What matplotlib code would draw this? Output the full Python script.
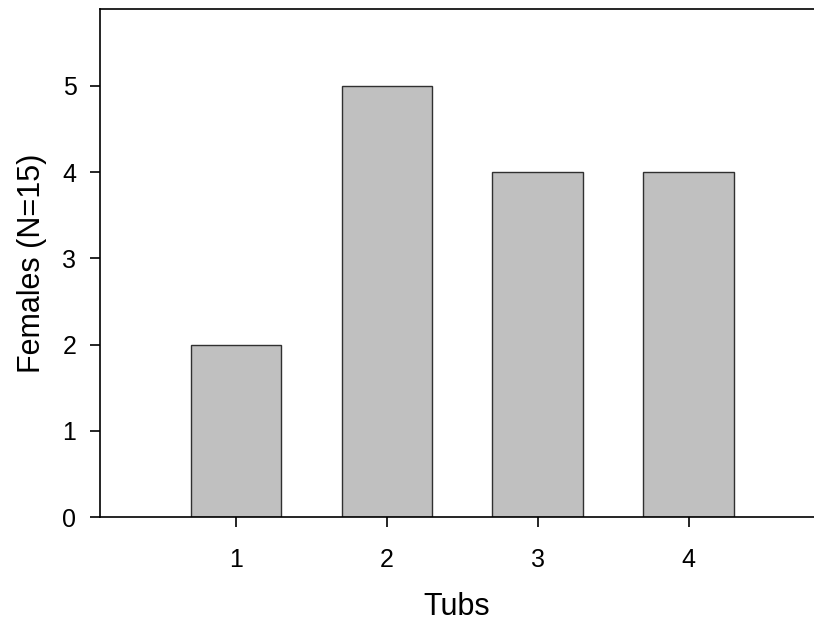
import matplotlib
matplotlib.use("Agg")
import matplotlib.pyplot as plt

plt.rcParams['font.family'] = ['Liberation Sans', 'DejaVu Sans']

# --- Data ---
tubs = [1, 2, 3, 4]
females = [2, 5, 4, 4]
yticks = [0, 1, 2, 3, 4, 5]

# --- Plot ---
fig = plt.figure(figsize=(8.14, 6.26), dpi=100)
ax = fig.add_axes([0.1229, 0.1741, 0.8771, 0.8115])

ax.bar(tubs, females, width=0.6, color='#c0c0c0', edgecolor='#303030', linewidth=1.0)

ax.set_xlim(0.1, 4.83)
ax.set_ylim(0, 5.89)
ax.set_xticks(tubs)
ax.set_yticks(yticks)

ax.spines['right'].set_visible(False)
for s in ['left', 'bottom', 'top']:
    ax.spines[s].set_linewidth(1.2)

ax.tick_params(direction='out', length=7, width=1.2, labelsize=18)
ax.tick_params(axis='x', pad=15)
ax.tick_params(axis='y', pad=10)
ax.set_xlabel('Tubs', fontsize=22, labelpad=15)
ax.set_ylabel('Females (N=15)', fontsize=22, labelpad=11)

plt.savefig('out.png', dpi=100)
